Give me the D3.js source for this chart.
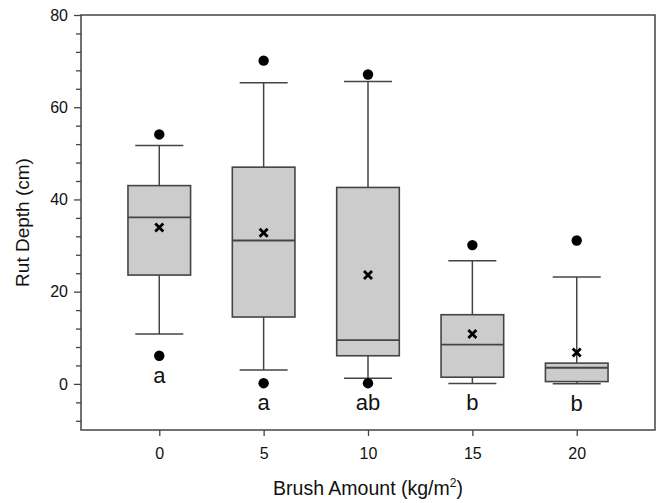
<!DOCTYPE html>
<html>
<head>
<meta charset="utf-8">
<script src="https://cdn.jsdelivr.net/npm/d3@7"></script>
<style>
  html, body { margin: 0; padding: 0; background: #fff; }
  svg { display: block; }
  text { font-family: "Liberation Sans", Arial, Helvetica, sans-serif; fill: #111; }
</style>
</head>
<body>
<svg id="chart" width="666" height="503"></svg>
<script>
// ---- data ----
const categories   = [0, 5, 10, 15, 20];
const whiskerLow   = [10.8, 3.0, 1.2, 0.1, 0.05];
const q1           = [23.6, 14.5, 6.1, 1.45, 0.5];
const median       = [36.1, 31.1, 9.5, 8.5, 3.5];
const q3           = [43.0, 47.0, 42.6, 15.0, 4.5];
const whiskerHigh  = [51.7, 65.3, 65.6, 26.7, 23.2];
const means        = [33.9, 32.8, 23.6, 10.8, 6.8];
const outlierHigh  = [54.1, 70.1, 67.1, 30.1, 31.1];
const outlierLow   = [6.1, 0.15, 0.15, null, null];
const groupLetters = ["a", "a", "ab", "b", "b"];
const yMajorTicks  = [0, 20, 40, 60, 80];
const xTicks       = [0, 5, 10, 15, 20];

(function () {
// ---- layout ----
const svg = d3.select("#chart");
const pl = 81, pr = 655, pt = 15, pb = 430;
const x = d3.scaleLinear().domain([-3.75, 23.75]).range([pl, pr]);
const y = d3.scaleLinear().domain([-10, 80]).range([pb, pt]);
const boxW = 3.0;   // in x units
const capW = 1.15;  // in x units
const stroke = "#444";

const g = svg.append("g");

// frame
g.append("rect")
  .attr("x", pl).attr("y", pt)
  .attr("width", pr - pl).attr("height", pb - pt)
  .attr("fill", "none").attr("stroke", stroke).attr("stroke-width", 1.5);

// y axis: major and minor ticks
const yAxis = d3.axisLeft(y).tickValues(yMajorTicks).tickSize(7).tickPadding(6);
const yG = g.append("g").attr("transform", `translate(${pl},0)`).call(yAxis);
yG.select(".domain").remove();
yG.selectAll(".tick line").attr("stroke", stroke).attr("stroke-width", 1.3);
yG.selectAll(".tick text").attr("font-size", 16).attr("fill", "#111")
  .attr("font-family", "Liberation Sans, Arial, sans-serif");
const minor = d3.range(-8, 80, 4).filter(v => !yMajorTicks.includes(v));
const yMinor = d3.axisLeft(y).tickValues(minor).tickSize(5).tickFormat("");
const yMG = g.append("g").attr("transform", `translate(${pl},0)`).call(yMinor);
yMG.select(".domain").remove();
yMG.selectAll(".tick line").attr("stroke", stroke).attr("stroke-width", 1.3);

// x axis
const xAxis = d3.axisBottom(x).tickValues(xTicks).tickSize(6).tickPadding(12);
const xG = g.append("g").attr("transform", `translate(0,${pb})`).call(xAxis);
xG.select(".domain").remove();
xG.selectAll(".tick line").attr("stroke", stroke).attr("stroke-width", 1.3);
xG.selectAll(".tick text").attr("font-size", 16).attr("fill", "#111")
  .attr("font-family", "Liberation Sans, Arial, sans-serif");

// axis titles
const xt = g.append("text")
  .attr("x", (pl + pr) / 2).attr("y", 495)
  .attr("text-anchor", "middle").attr("font-size", 19.5);
xt.append("tspan").text("Brush Amount (kg/m");
xt.append("tspan").attr("dy", -8).attr("font-size", 12).text("2");
xt.append("tspan").attr("dy", 8).text(")");

g.append("text")
  .attr("transform", `translate(29,${(pt + pb) / 2}) rotate(-90)`)
  .attr("text-anchor", "middle").attr("font-size", 19)
  .text("Rut Depth (cm)");

// boxes
const data = categories.map((c, i) => ({
  c, lo: whiskerLow[i], q1: q1[i], med: median[i], q3: q3[i], hi: whiskerHigh[i],
  mean: means[i], oh: outlierHigh[i], ol: outlierLow[i], letter: groupLetters[i]
}));

const bx = g.selectAll(".box").data(data).enter().append("g").attr("class", "box");

// whiskers
bx.append("line")
  .attr("x1", d => x(d.c)).attr("x2", d => x(d.c))
  .attr("y1", d => y(d.q3)).attr("y2", d => y(d.hi))
  .attr("stroke", stroke).attr("stroke-width", 1.5);
bx.append("line")
  .attr("x1", d => x(d.c)).attr("x2", d => x(d.c))
  .attr("y1", d => y(d.q1)).attr("y2", d => y(d.lo))
  .attr("stroke", stroke).attr("stroke-width", 1.5);
// caps
bx.append("line")
  .attr("x1", d => x(d.c - capW)).attr("x2", d => x(d.c + capW))
  .attr("y1", d => y(d.hi)).attr("y2", d => y(d.hi))
  .attr("stroke", stroke).attr("stroke-width", 1.5);
bx.append("line")
  .attr("x1", d => x(d.c - capW)).attr("x2", d => x(d.c + capW))
  .attr("y1", d => y(d.lo)).attr("y2", d => y(d.lo))
  .attr("stroke", stroke).attr("stroke-width", 1.5);
// box
bx.append("rect")
  .attr("x", d => x(d.c - boxW / 2))
  .attr("width", d => x(d.c + boxW / 2) - x(d.c - boxW / 2))
  .attr("y", d => y(d.q3))
  .attr("height", d => y(d.q1) - y(d.q3))
  .attr("fill", "#cccccc").attr("stroke", stroke).attr("stroke-width", 1.6);
// median
bx.append("line")
  .attr("x1", d => x(d.c - boxW / 2)).attr("x2", d => x(d.c + boxW / 2))
  .attr("y1", d => y(d.med)).attr("y2", d => y(d.med))
  .attr("stroke", stroke).attr("stroke-width", 1.8);
// mean marker (x)
const ms = 4;
bx.append("path")
  .attr("d", d => {
    const cx = x(d.c), cy = y(d.mean);
    return `M${cx - ms},${cy - ms}L${cx + ms},${cy + ms}M${cx - ms},${cy + ms}L${cx + ms},${cy - ms}`;
  })
  .attr("stroke", "#000").attr("stroke-width", 2.8).attr("fill", "none");
// outliers
bx.append("circle")
  .attr("cx", d => x(d.c)).attr("cy", d => y(d.oh)).attr("r", 5.2).attr("fill", "#000");
bx.filter(d => d.ol !== null).append("circle")
  .attr("cx", d => x(d.c)).attr("cy", d => y(d.ol)).attr("r", 5.2).attr("fill", "#000");
// group letters
bx.append("text")
  .attr("x", d => x(d.c))
  .attr("y", d => y(d.ol !== null ? Math.min(d.ol, d.lo) : d.lo) + 27)
  .attr("text-anchor", "middle").attr("font-size", 22)
  .text(d => d.letter);
})();
</script>
</body>
</html>
